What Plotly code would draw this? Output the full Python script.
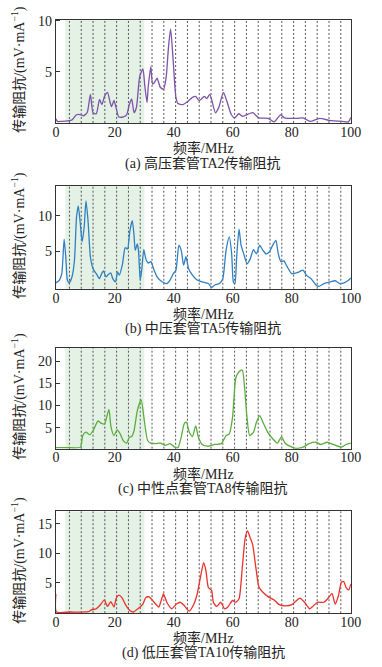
import plotly.graph_objects as go

# ---------------- data ----------------
freq_a = [0, 0.5, 2, 4, 5.5, 7, 8.5, 9.3, 10.6, 11.7, 12.6, 13.7, 14.8, 15.6, 16.5, 17.5, 18.4, 18.9, 19.7,
          20.4, 21.3, 22.9, 24, 24.9, 25.7, 26.5, 27.3, 28.4, 29.5, 30.2, 30.9, 31.3, 32.2, 32.8, 33.5, 34.3,
          35.4, 36.5, 37.4, 38.2, 38.9, 39.8, 40.7, 41.4, 43, 44.7, 46.3, 47.4, 48.5, 49.2, 50.3, 51.2, 52.2,
          54.1, 55.2, 56.8, 57.9, 59.5, 60.6, 62, 63.3, 65.5, 66.8, 68.8, 72, 74, 76.2, 77.5, 81.8, 83.8, 86.2,
          89.4, 92.7, 94.1, 97, 99.2, 100]
imp_a = [0.4, 0.15, 0.15, 0.2, 0.3, 0.8, 0.8, 0.7, 1.0, 2.8, 1.0, 0.9, 2.3, 1.8, 2.6, 3.0, 2.0, 1.6, 2.2,
         1.5, 0.6, 0.6, 0.8, 1.8, 2.35, 1.0, 1.5, 4.5, 5.3, 3.5, 2.0, 3.5, 5.5, 3.8, 4.0, 4.4,
         3.5, 3.3, 4.5, 7.5, 9.2, 6.0, 2.5, 1.9, 1.8, 2.1, 2.5, 2.6, 2.2, 2.3, 2.6, 2.4, 2.8,
         1.0, 1.5, 3.0, 2.2, 0.8, 0.5, 0.9, 0.65, 0.9, 1.0, 0.5, 0.45, 0.1, 0.8, 0.5, 0.45, 0.5, 0.15,
         0.45, 0.25, 0.2, 0.15, 0.1, 0.55]

freq_b = [0, 1.2, 2, 2.8, 3.4, 3.9, 4.5, 5.5, 6.3, 7, 7.6, 8.3, 8.9, 9.6, 10.2, 10.9, 11.7, 12.6, 13.7, 14.8,
          15.3, 16.1, 17, 17.6, 18.6, 19.3, 20.2, 20.9, 21.5, 22.6, 23.5, 24.3, 25.1, 25.9, 26.5, 26.9, 27.6,
          28, 28.6, 29.1, 29.8, 30.5, 31.3, 32.2, 33.3, 34.3, 36, 37.6, 38.7, 39.8, 40.7, 41.7, 42.5, 43.3,
          44.1, 45, 46.3, 47.9, 49.6, 51.7, 52.8, 53.9, 55.5, 56.6, 57.7, 58.8, 59.6, 60.2, 60.7, 61.3, 62.1,
          62.8, 63.7, 64.8, 65.9, 67, 68, 69.1, 70.2, 71.3, 72.4, 73.5, 74.6, 75.4, 76.3, 77.3, 78.4, 80,
          82.2, 83.8, 84.9, 86.5, 88.2, 89.2, 90.9, 93, 94.7, 96.3, 97.7, 99.3, 100]
imp_b = [0.5, 0.9, 1.8, 6.7, 3.8, 0.9, 0.5, 1.4, 3.7, 9.8, 11.4, 8.8, 6.3, 8.4, 12.1, 9.3, 4.2, 2.5, 1.8, 1.1,
         1.6, 2.2, 1.35, 1.6, 1.9, 1.1, 0.65, 2.05, 1.6, 3.2, 5.5, 5.3, 7.9, 9.3, 7.2, 5.1, 6.0,
         5.1, 0.9, 2.3, 5.2, 3.9, 3.3, 3.5, 2.3, 1.35, 0.65, 0.4, 0.9, 1.8, 2.3, 5.8, 5.1, 3.0,
         4.2, 2.5, 1.6, 0.9, 0.65, 0.4, -0.15, 0.2, 0.4, 1.1, 5.1, 7.0, 4.6, 0.6, 0.4, 4.2, 8.1,
         5.8, 4.6, 3.2, 3.9, 5.2, 4.6, 5.8, 5.1, 4.6, 4.9, 5.8, 6.5, 4.6, 3.5, 3.6, 2.8, 1.8,
         2.0, 2.3, 1.6, 1.1, 0.2, 0.0, 0.4, 0.65, 0.8, 0.4, 0.5, 0.9, 1.2]

freq_c = [0, 3.9, 8.3, 9.1, 10.2, 11.5, 12.6, 14.3, 15.3, 16.5, 17.2, 18, 18.7, 19.7, 20.8, 21.8, 22.9, 24,
          24.9, 25.7, 26.5, 27.6, 28.9, 30, 31.1, 32.2, 33.8, 35.4, 37.1, 38.7, 40.3, 41.4, 42.5, 43.6, 44.3,
          45.2, 46.3, 47.4, 48.3, 49.6, 51.7, 53.9, 56.1, 57.7, 58.8, 59.9, 61, 62.1, 63.2, 64, 64.8, 65.7,
          67, 68, 69.1, 70.2, 71.8, 73.5, 75.1, 76.5, 77.8, 80, 81.6, 83.8, 85.9, 88.2, 89.8, 92, 94.1, 96.8,
          98.4, 100]
imp_c = [0.5, 0.5, 0.6, 3.2, 4.0, 3.4, 4.3, 6.5, 6.0, 5.8, 7.3, 9.1, 5.1, 3.2, 4.5, 3.6, 2.0, 1.5,
         2.8, 3.0, 4.3, 8.8, 11.3, 6.5, 2.1, 1.5, 1.4, 1.5, 1.0, 1.4, 0.6, 0.5, 2.9, 6.0, 6.2,
         4.0, 3.0, 5.4, 2.9, 1.2, 0.8, 1.2, 1.4, 3.2, 3.6, 7.3, 16.2, 17.6, 18.0, 13.9, 7.3, 3.2,
         4.0, 6.2, 7.7, 6.2, 4.0, 2.5, 1.5, 2.9, 1.4, 0.6, 0.3, 0.6, 1.4, 1.7, 1.2, 1.7, 1.2, 0.6,
         1.2, 1.5]

freq_d = [0, 0.2, 5, 11, 12, 13.7, 15.3, 16.4, 17.5, 18.6, 19.7, 20.4, 21.3, 22.4, 23.5, 25.1, 26.2, 27.8,
          29.5, 30.5, 31.6, 33.3, 34.9, 35.7, 36.5, 37.6, 39.3, 40.9, 42.2, 43.6, 45.2, 46.8, 47.9, 49, 50.1,
          50.9, 51.7, 52.8, 53.4, 54.5, 55.9, 57.2, 58.3, 59.9, 61, 62.1, 63.2, 64.2, 65, 65.9, 66.7, 67.8,
          68.9, 70.2, 71.8, 74, 75.7, 77.8, 80, 81.6, 82.7, 84.3, 86, 87.1, 88.7, 90.9, 92.5, 93.6, 94.7,
          95.8, 96.8, 97.6, 98.4, 99.3, 100]
imp_d = [3.1, 0.05, 0.05, 0.1, 0.4, 0.6, 1.4, 2.1, 1.0, 1.8, 0.9, 2.3, 2.9, 2.5, 1.4, 0.3, 0.05, 0.6,
         1.4, 2.5, 2.6, 1.7, 0.9, 2.0, 3.1, 1.7, 0.6, 1.4, 1.7, 1.1, 0.2, 1.4, 3.1, 5.9, 8.4,
         7.0, 4.2, 3.7, 1.7, 1.0, 1.7, 0.6, 0.9, 2.0, 1.7, 2.3, 7.6, 12.6, 13.8, 12.6, 11.5, 7.6,
         4.2, 3.4, 2.7, 2.1, 1.3, 1.1, 1.3, 2.0, 2.4, 1.7, 0.6, 1.0, 1.7, 1.7, 2.5, 3.2, 1.4,
         2.8, 5.1, 5.2, 4.2, 3.8, 4.8]

captions = ["(a) 高压套管TA2传输阻抗", "(b) 中压套管TA5传输阻抗",
            "(c) 中性点套管TA8传输阻抗", "(d) 低压套管TA10传输阻抗"]
line_colors = ["#7d52a8", "#2f7fc2", "#5aad3c", "#e8322c"]
y_ranges = [[0, 10.1], [-0.33, 14.2], [0.25, 23], [-0.15, 17.1]]
y_ticks = [[5, 10], [5, 10], [5, 10, 15, 20], [5, 10, 15]]
x_ticks = [0, 20, 40, 60, 80, 100]
band_mhz = [3.2, 30]                                # shaded HF band
dashed_lines_mhz = [4.6 + 4 * k for k in range(24)]  # dotted reference lines

series_f = [freq_a, freq_b, freq_c, freq_d]
series_z = [imp_a, imp_b, imp_c, imp_d]

# ---------------- layout geometry (pixels) ----------------
W, H = 382, 667
x_left, x_right = 54, 361
panels_px = [(14, 118), (181.7, 285.3), (345, 446.7), (510, 612.7)]

serif = "Liberation Serif, Noto Sans CJK SC, serif"
fig = go.Figure()
shapes, annotations = [], []
for i in range(4):
    ax = "" if i == 0 else str(i + 1)
    top, bot = panels_px[i]
    fig.add_trace(go.Scatter(x=series_f[i], y=series_z[i], mode="lines",
                             line=dict(color=line_colors[i], width=1.3, shape="spline", smoothing=0.6),
                             xaxis="x" + ax, yaxis="y" + ax, showlegend=False, hoverinfo="skip"))
    fig.update_layout(**{
        "xaxis" + ax: dict(domain=[x_left / W, x_right / W], range=[0, 100], anchor="y" + ax,
                           tickvals=x_ticks, ticks="", ticklen=0, ticklabelstandoff=-4,
                           showgrid=False, zeroline=False,
                           showline=True, linecolor="#333", linewidth=1, mirror=True,
                           tickfont=dict(family=serif, size=14, color="#222")),
        "yaxis" + ax: dict(domain=[1 - bot / H, 1 - top / H], range=y_ranges[i], anchor="x" + ax,
                           tickvals=y_ticks[i], ticks="inside", ticklen=4, tickcolor="#333",
                           showgrid=False, zeroline=False,
                           showline=True, linecolor="#333", linewidth=1, mirror=True,
                           tickfont=dict(family=serif, size=14, color="#222")),
    })
    xr, yr = "x" + ax, ("y" + ax) + " domain"
    shapes.append(dict(type="rect", xref=xr, yref=yr, x0=band_mhz[0], x1=band_mhz[1], y0=0, y1=1,
                       fillcolor="#e4f2e6", line_width=0, layer="below"))
    for xv in dashed_lines_mhz:
        shapes.append(dict(type="line", xref=xr, yref=yr, x0=xv, x1=xv, y0=0, y1=1,
                           line=dict(color="#555", width=1, dash="2px,2px"), layer="below"))
    annotations.append(dict(text="频率/MHz", xref="paper", yref="paper", x=(x_left + x_right) / 2 / W,
                            y=1 - (bot + 25.5) / H, showarrow=False, xanchor="center", yanchor="middle",
                            font=dict(family=serif, size=14, color="#222")))
    annotations.append(dict(text=captions[i], xref="paper", yref="paper", x=(x_left + x_right) / 2 / W,
                            y=1 - (bot + 40.5) / H, showarrow=False, xanchor="center", yanchor="middle",
                            font=dict(family=serif, size=14, color="#222")))
    annotations.append(dict(text="传输阻抗/(mV·mA<sup>−1</sup>)", xref="paper", yref="paper",
                            x=15 / W, y=1 - ((top + bot) / 2 - 2) / H, textangle=-90, showarrow=False,
                            xanchor="center", yanchor="middle",
                            font=dict(family=serif, size=14, color="#222")))

fig.update_layout(width=W, height=H, margin=dict(l=0, r=0, t=0, b=0),
                  paper_bgcolor="white", plot_bgcolor="white",
                  shapes=shapes, annotations=annotations)
fig.write_html("out.html", config={"displayModeBar": False},
               post_script="document.body.style.margin='0';document.body.style.padding='0';")
